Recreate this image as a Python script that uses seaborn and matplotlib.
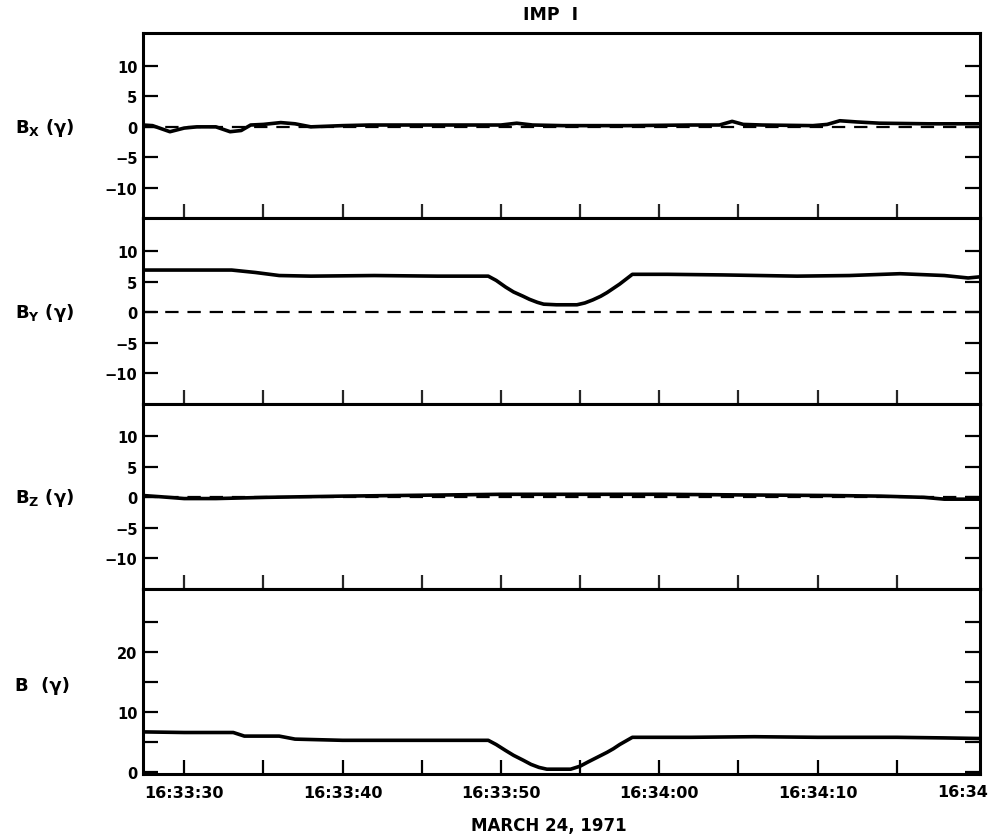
import matplotlib
matplotlib.use("Agg")
import matplotlib.pyplot as plt
import matplotlib.transforms as mtransforms
import seaborn as sns
import pandas as pd

# ---- data (seconds after 16:33:00) ----
t_bx = [27.4, 28.0, 29.1, 30.0, 30.8, 32.0, 32.9, 33.6, 34.2, 35.0, 36.1, 37.0, 38.0, 40.0, 41.7,
        45.0, 50.0, 51.0, 52.0, 53.9, 58.0, 62.0, 63.8, 64.6, 65.3, 66.5, 69.7, 70.6, 71.4, 72.5,
        73.9, 77.0, 80.3]
bx = [0.3, 0.2, -0.8, -0.2, 0.0, 0.0, -0.8, -0.6, 0.3, 0.4, 0.7, 0.5, 0.0, 0.2, 0.3,
      0.3, 0.3, 0.6, 0.3, 0.2, 0.2, 0.3, 0.3, 0.9, 0.4, 0.3, 0.2, 0.4, 1.0, 0.8,
      0.6, 0.5, 0.5]

t_by = [27.4, 30.0, 33.0, 34.5, 36.0, 38.0, 42.0, 46.0, 49.2, 49.7, 50.3, 50.8, 51.4, 51.8,
        52.3, 52.7, 53.5, 54.8, 55.3, 55.8, 56.3, 56.7, 57.1, 57.5, 57.9, 58.3, 60.5, 64.0,
        68.7, 72.0, 75.2, 78.0, 79.5, 80.3]
by = [6.9, 6.9, 6.9, 6.5, 6.0, 5.9, 6.0, 5.9, 5.9, 5.2, 4.1, 3.3, 2.6, 2.1,
      1.6, 1.3, 1.2, 1.2, 1.5, 2.0, 2.6, 3.2, 3.9, 4.6, 5.4, 6.2, 6.2, 6.1,
      5.9, 6.0, 6.3, 6.0, 5.6, 5.8]

t_bz = [27.4, 28.5, 30.0, 32.0, 35.2, 40.0, 46.8, 50.0, 55.0, 60.2, 65.0, 70.8, 74.0, 76.7,
        78.0, 80.3]
bz = [0.3, 0.1, -0.2, -0.2, 0.0, 0.2, 0.4, 0.5, 0.5, 0.5, 0.4, 0.3, 0.2, 0.0,
      -0.3, -0.3]

t_b = [27.4, 30.0, 33.1, 33.8, 36.0, 37.0, 40.0, 45.0, 49.2, 49.7, 50.3, 50.8, 51.4, 51.9,
       52.4, 52.9, 54.4, 55.0, 55.5, 56.1, 56.7, 57.1, 57.5, 57.9, 58.3, 62.0, 66.0, 70.0,
       75.0, 78.0, 80.3]
b = [6.7, 6.6, 6.6, 6.0, 6.0, 5.5, 5.3, 5.3, 5.3, 4.6, 3.6, 2.8, 2.0, 1.3,
     0.8, 0.5, 0.5, 1.0, 1.7, 2.5, 3.3, 3.9, 4.6, 5.2, 5.8, 5.8, 5.9, 5.8,
     5.8, 5.7, 5.6]

panel_labels = [r"B$_\mathbf{X}$ (γ)", r"B$_\mathbf{Y}$ (γ)", r"B$_\mathbf{Z}$ (γ)", "B  (γ)"]
x_tick_pos = [30, 40, 50, 60, 70]
x_tick_labels = ["16:33:30", "16:33:40", "16:33:50", "16:34:00", "16:34:10"]
x_last_label = "16:34"
x_minor_pos = [35, 45, 55, 65, 75]
comp_ticks = [-10, -5, 0, 5, 10]
comp_tick_labels = ["−10", "−5", "0", "5", "10"]
b_ticks = [0, 5, 10, 15, 20, 25]
b_tick_labels = ["0", "", "10", "", "20", ""]

sns.set_theme(style="white")
plt.rcParams["font.family"] = ["DejaVu Sans"]
plt.rcParams["font.weight"] = "bold"
plt.rcParams["mathtext.default"] = "bf"
plt.rcParams["text.color"] = "black"

fig = plt.figure(figsize=(9.9, 8.37), dpi=100)
left, width = 143 / 990, (980 - 143) / 990
top = 1 - 34 / 837
bottom = 1 - 775 / 837
ph = (top - bottom) / 4

series = [(t_bx, bx), (t_by, by), (t_bz, bz), (t_b, b)]
axes = []
for i, (tt, vv) in enumerate(series):
    ax = fig.add_axes([left, top - (i + 1) * ph, width, ph])
    axes.append(ax)
    df = pd.DataFrame({"t": tt, "v": vv})
    if i < 3:
        ax.axhline(0, color="black", lw=1.6, ls=(0, (6, 4)), zorder=1)
    sns.lineplot(data=df, x="t", y="v", ax=ax, color="black", lw=2.6, zorder=3)
    ax.set_xlim(27.4, 80.25)
    if i < 3:
        ax.set_ylim(-15.0, 15.4)
        ax.set_yticks(comp_ticks)
        ax.set_yticklabels(comp_tick_labels)
        ylab_y = 0
    else:
        ax.set_ylim(-0.3, 30.5)
        ax.set_yticks(b_ticks)
        ax.set_yticklabels(b_tick_labels)
        ylab_y = 14.5
    ax.set_xlabel("")
    ax.set_ylabel("")
    for s in ax.spines.values():
        s.set_linewidth(2.2)
        s.set_color("black")
    ax.tick_params(axis="y", direction="in", length=11, width=1.6, left=True, right=True,
                   labelsize=10.5, pad=4, colors="black")
    if i == 3:
        ax.set_xticks(x_tick_pos)
        ax.set_xticklabels(x_tick_labels, fontsize=11.5, fontweight="bold")
        ax.set_xticks(x_minor_pos, minor=True)
        ax.tick_params(axis="x", which="both", direction="in", length=10, width=1.6,
                       bottom=True, top=False, pad=8, colors="black")
        last_y = ax.get_xticklabels()[0]
    else:
        ax.set_xticks(x_tick_pos + x_minor_pos)
        ax.set_xticklabels([])
        ax.tick_params(axis="x", direction="in", length=10, width=1.6, bottom=True, top=False)
    for lab in ax.get_yticklabels():
        lab.set_fontweight("bold")
    trans = mtransforms.blended_transform_factory(fig.transFigure, ax.transData)
    ax.text(15 / 990, ylab_y, panel_labels[i], transform=trans, ha="left", va="center",
            fontsize=13, fontweight="bold")

fig.text(988 / 990, 1 - 793 / 837, x_last_label, ha="right", va="center", fontsize=11.5,
         fontweight="bold")
fig.text(551 / 990, 1 - 15 / 837, "IMP  I", ha="center", va="center", fontsize=12.5,
         fontweight="bold")
fig.text(549 / 990, 1 - 826 / 837, "MARCH 24, 1971", ha="center", va="center",
         fontsize=12, fontweight="bold")

fig.savefig("out.png", dpi=100)
